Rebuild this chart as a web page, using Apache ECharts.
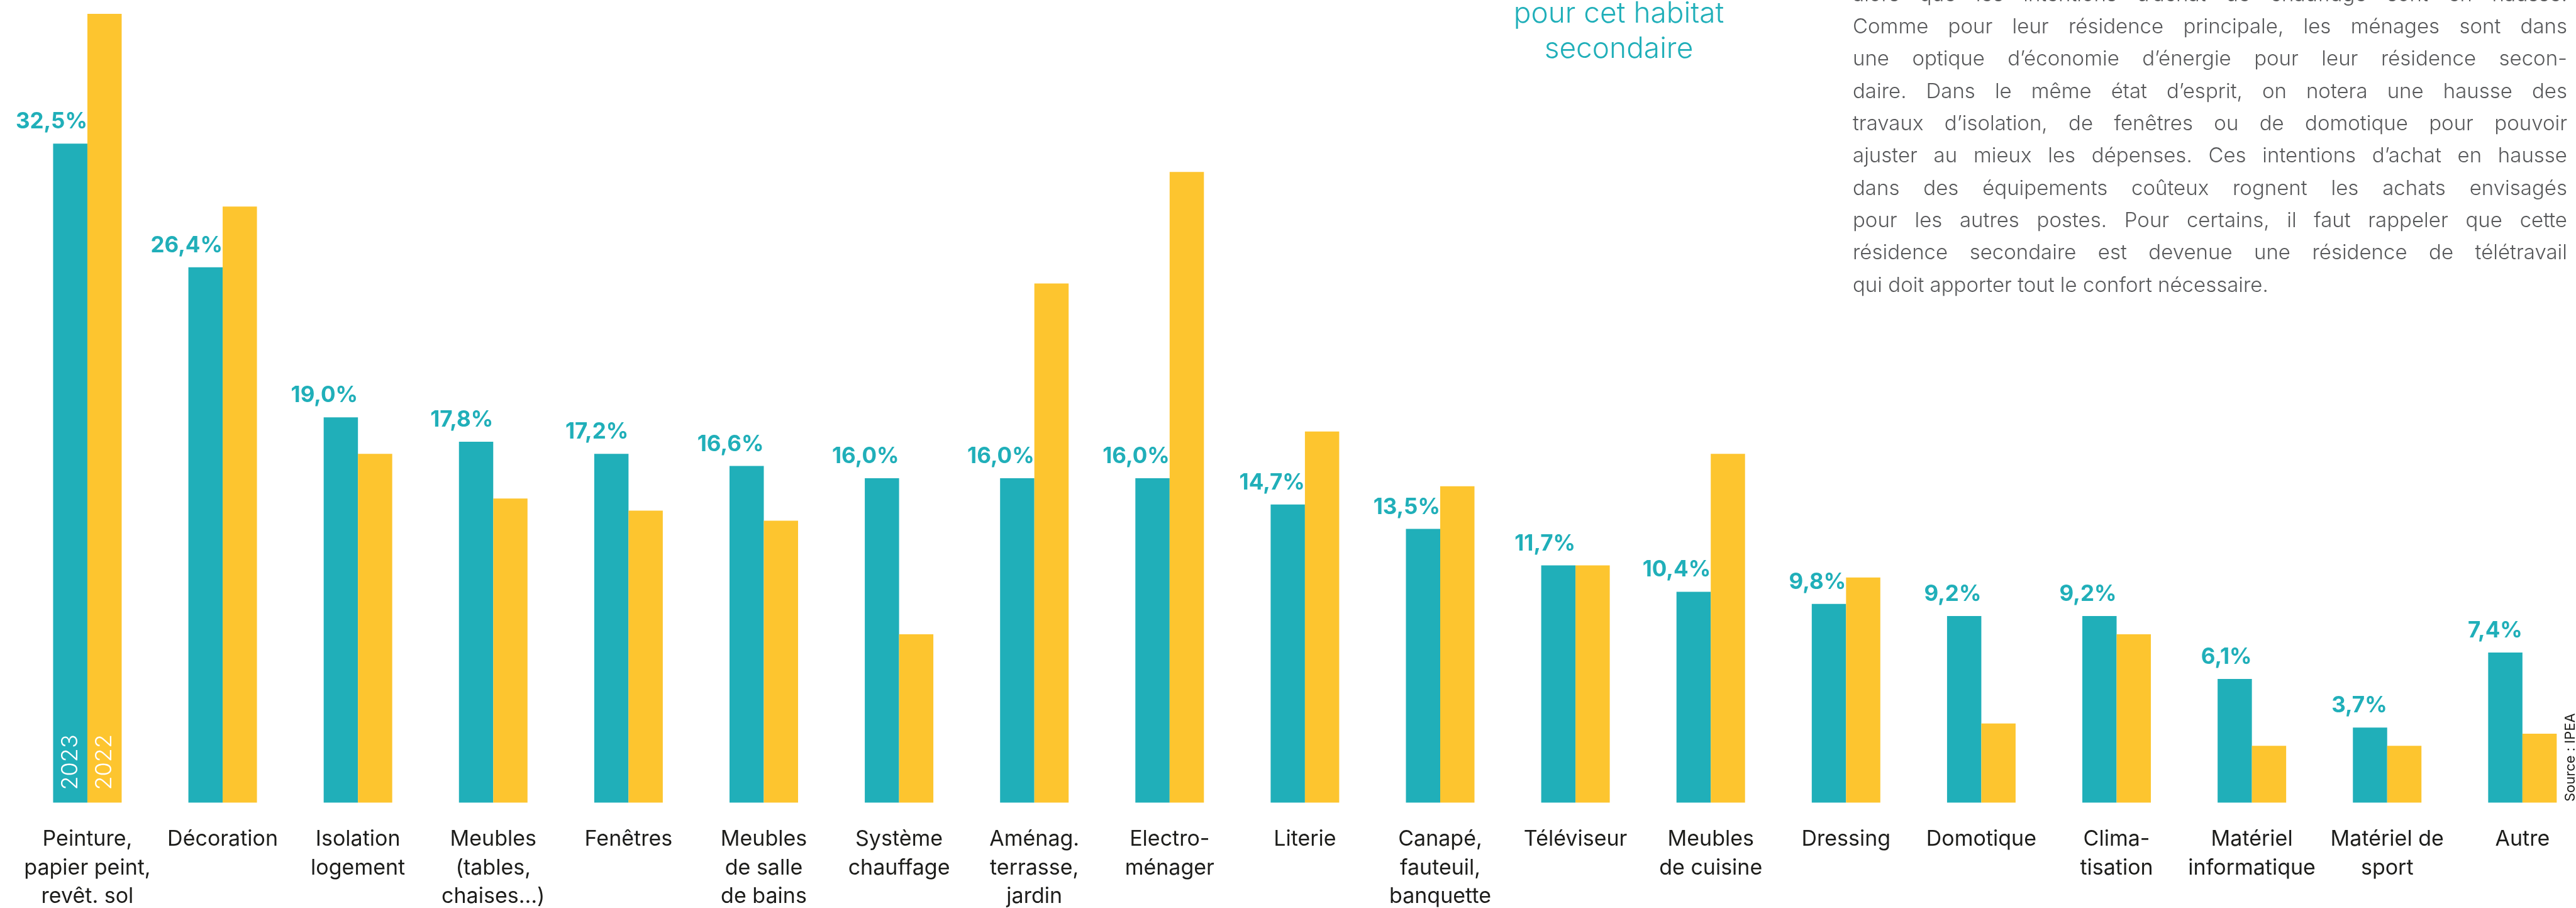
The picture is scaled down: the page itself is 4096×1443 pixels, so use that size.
<!DOCTYPE html>
<html>
<head>
<meta charset="utf-8">
<title>Intentions d'achat pour la résidence secondaire</title>
<script src="https://cdn.jsdelivr.net/npm/echarts@6/dist/echarts.min.js"></script>
<style>
  html, body { margin: 0; padding: 0; background: #ffffff; }
  #chart { width: 4096px; height: 1443px; }
</style>
</head>
<body>
<div id="chart"></div>
<script>
// ---- Data ----
const categories = [
  'Peinture,\npapier peint,\nrevêt. sol',
  'Décoration',
  'Isolation\nlogement',
  'Meubles\n(tables,\nchaises…)',
  'Fenêtres',
  'Meubles\nde salle\nde bains',
  'Système\nchauffage',
  'Aménag.\nterrasse,\njardin',
  'Electro-\nménager',
  'Literie',
  'Canapé,\nfauteuil,\nbanquette',
  'Téléviseur',
  'Meubles\nde cuisine',
  'Dressing',
  'Domotique',
  'Clima-\ntisation',
  'Matériel\ninformatique',
  'Matériel de\nsport',
  'Autre'
];
const values2023 = [32.5, 26.4, 19.0, 17.8, 17.2, 16.6, 16.0, 16.0, 16.0, 14.7, 13.5, 11.7, 10.4, 9.8, 9.2, 9.2, 6.1, 3.7, 7.4];
const values2022 = [38.9, 29.4, 17.2, 15.0, 14.4, 13.9, 8.3, 25.6, 31.1, 18.3, 15.6, 11.7, 17.2, 11.1, 3.9, 8.3, 2.8, 2.8, 3.4];
const seriesNames = ['2023', '2022'];

const headingLines = ['pour cet habitat', 'secondaire'];
const paragraphLines = [
  'alors que les intentions d’achat de chauffage sont en hausse.',
  'Comme pour leur résidence principale, les ménages sont dans',
  'une optique d’économie d’énergie pour leur résidence secon-',
  'daire. Dans le même état d’esprit, on notera une hausse des',
  'travaux d’isolation, de fenêtres ou de domotique pour pouvoir',
  'ajuster au mieux les dépenses. Ces intentions d’achat en hausse',
  'dans des équipements coûteux rognent les achats envisagés',
  'pour les autres postes. Pour certains, il faut rappeler que cette',
  'résidence secondaire est devenue une résidence de télétravail',
  'qui doit apporter tout le confort nécessaire.'
];
const sourceText = 'Source : IPEA';

// ---- Style ----
const TEAL = '#20afb9';
const YELLOW = '#fdc52f';
const INK = '#1d1d1b';
const GREY = '#58595b';
const FAMILY = "Inter, 'Noto Sans', sans-serif";
const BAR_W = 54.5;

const fmt = v => v.toFixed(1).replace('.', ',') + '%';

const chart = echarts.init(document.getElementById('chart'), null, { renderer: 'canvas' });

chart.setOption({
  animation: false,
  backgroundColor: '#ffffff',
  grid: {
    left: 31.4,
    top: 18.8,
    width: 4087,
    height: 1256.7,
    containLabel: false,
    outerBoundsMode: 'none'
  },
  xAxis: {
    type: 'category',
    data: categories,
    axisLine: { show: false },
    axisTick: { show: false },
    splitLine: { show: false },
    axisLabel: {
      interval: 0,
      margin: 36,
      color: INK,
      fontFamily: FAMILY,
      fontSize: 34,
      lineHeight: 45.3,
      align: 'center'
    }
  },
  yAxis: {
    type: 'value',
    min: 0,
    max: 39,
    show: false,
    splitLine: { show: false }
  },
  series: [
    {
      name: seriesNames[0],
      type: 'bar',
      data: values2023,
      barWidth: BAR_W,
      barGap: '0%',
      itemStyle: { color: TEAL },
      label: {
        show: true,
        position: ['100%', -17],
        align: 'right',
        verticalAlign: 'bottom',
        formatter: p => fmt(p.value),
        color: TEAL,
        fontFamily: FAMILY,
        fontWeight: 'bold',
        fontSize: 35,
        lineHeight: 35
      }
    },
    {
      name: seriesNames[1],
      type: 'bar',
      data: values2022,
      barWidth: BAR_W,
      barGap: '0%',
      itemStyle: { color: YELLOW }
    }
  ]
});

// ---- Annotations: year tags inside the first pair of bars, heading, text block, source ----
const graphics = [];

const origin = chart.convertToPixel({ gridIndex: 0 }, [0, 0]);
[[seriesNames[0], origin[0] - BAR_W / 2], [seriesNames[1], origin[0] + BAR_W / 2]].forEach(([txt, cx]) => {
  graphics.push({
    type: 'text',
    z: 100,
    x: cx,
    y: origin[1] - 20,
    rotation: Math.PI / 2,
    style: {
      text: txt,
      fill: '#ffffff',
      font: '300 36px ' + FAMILY,
      align: 'left', textAlign: 'left',
      verticalAlign: 'middle', textVerticalAlign: 'middle'
    }
  });
});

const headingFont = '300 46px ' + FAMILY;
headingLines.forEach((line, i) => {
  graphics.push({
    type: 'text',
    z: 100,
    x: 2574,
    y: 22 + i * 56.2,
    style: {
      text: line,
      fill: TEAL,
      font: headingFont,
      align: 'center', textAlign: 'center',
      verticalAlign: 'middle', textVerticalAlign: 'middle'
    }
  });
});

// justified paragraph, word by word
const paraFont = '300 33px ' + FAMILY;
const measure = document.createElement('canvas').getContext('2d');
measure.font = paraFont;
const PARA_LEFT = 2946, PARA_RIGHT = 4082, PARA_Y0 = -8.4, PARA_LH = 51.36;
const spaceW = measure.measureText(' ').width;
paragraphLines.forEach((line, i) => {
  const words = line.split(' ');
  const widths = words.map(w => measure.measureText(w).width);
  const total = widths.reduce((a, b) => a + b, 0);
  const isLast = i === paragraphLines.length - 1;
  const gap = (isLast || words.length < 2) ? spaceW : (PARA_RIGHT - PARA_LEFT - total) / (words.length - 1);
  let x = PARA_LEFT;
  words.forEach((w, j) => {
    graphics.push({
      type: 'text',
      z: 100,
      x: x,
      y: PARA_Y0 + i * PARA_LH,
      style: {
        text: w,
        fill: GREY,
        font: paraFont,
        align: 'left', textAlign: 'left',
        verticalAlign: 'middle', textVerticalAlign: 'middle'
      }
    });
    x += widths[j] + gap;
  });
});

graphics.push({
  type: 'text',
  z: 100,
  x: 4087,
  y: 1274,
  rotation: Math.PI / 2,
  style: {
    text: sourceText,
    fill: INK,
    font: '22px ' + FAMILY,
    align: 'left', textAlign: 'left',
    verticalAlign: 'middle', textVerticalAlign: 'middle'
  }
});

chart.setOption({ graphic: { elements: graphics } });
</script>
</body>
</html>
